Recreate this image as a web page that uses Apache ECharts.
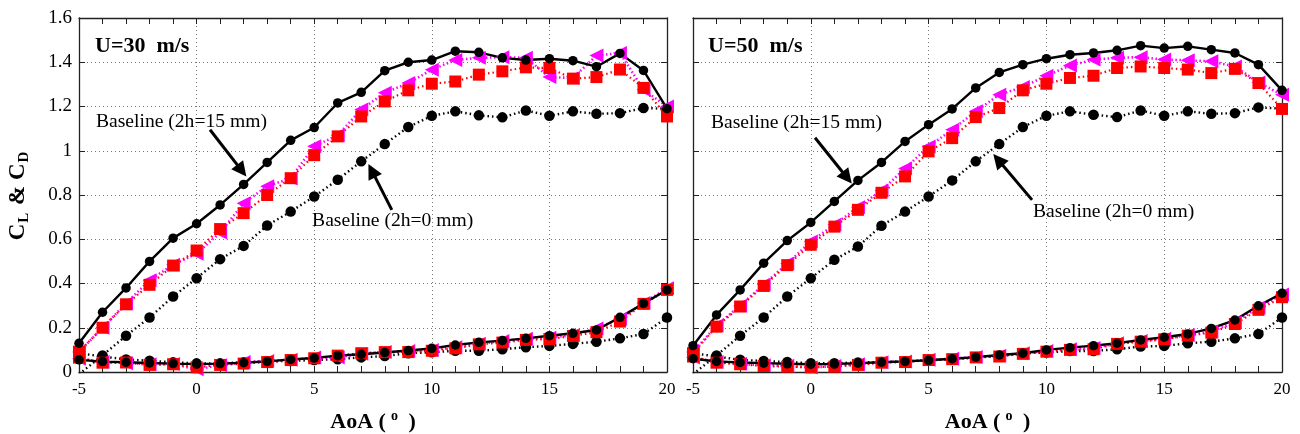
<!DOCTYPE html>
<html>
<head>
<meta charset="utf-8">
<script src="https://cdn.jsdelivr.net/npm/echarts@6/dist/echarts.min.js"></script>
<style>html,body{margin:0;padding:0;background:#fff}#c{width:1300px;height:434px}</style>
</head>
<body>
<div id="c"></div>
<script>
const aoa = [-5,-4,-3,-2,-1,0,1,2,3,4,5,6,7,8,9,10,11,12,13,14,15,16,17,18,19,20];
const xTicks = [-5,0,5,10,15,20];
const yTicks = [0,0.2,0.4,0.6,0.8,1,1.2,1.4,1.6];

// U = 30 m/s
const cl30_h15 = [0.13,0.27,0.38,0.50,0.605,0.67,0.755,0.848,0.947,1.047,1.105,1.216,1.264,1.362,1.40,1.41,1.45,1.445,1.42,1.41,1.416,1.407,1.38,1.44,1.363,1.19];
const cl30_mag = [0.09,0.20,0.31,0.415,0.485,0.535,0.63,0.763,0.84,0.875,1.02,1.07,1.186,1.262,1.306,1.366,1.41,1.42,1.423,1.42,1.333,1.329,1.43,1.442,1.276,1.20];
const cl30_red = [0.092,0.20,0.306,0.394,0.481,0.549,0.646,0.718,0.80,0.876,0.98,1.065,1.155,1.223,1.273,1.303,1.313,1.344,1.359,1.377,1.374,1.326,1.333,1.367,1.284,1.155];
const cl30_h0  = [-0.01,0.075,0.164,0.246,0.341,0.424,0.51,0.57,0.662,0.725,0.793,0.869,0.952,1.03,1.107,1.158,1.178,1.16,1.151,1.182,1.158,1.178,1.167,1.17,1.193,1.19];
const cd30_h15 = [0.055,0.047,0.044,0.041,0.038,0.036,0.038,0.042,0.048,0.057,0.063,0.074,0.08,0.088,0.097,0.107,0.122,0.134,0.142,0.152,0.164,0.175,0.19,0.247,0.31,0.371];
const cd30_mag = [0.06,0.045,0.04,0.035,0.036,0.012,0.03,0.045,0.05,0.055,0.065,0.065,0.083,0.09,0.095,0.10,0.112,0.128,0.14,0.15,0.155,0.167,0.197,0.24,0.312,0.378];
const cd30_red = [0.065,0.042,0.043,0.032,0.035,0.021,0.032,0.038,0.045,0.054,0.062,0.074,0.085,0.09,0.09,0.096,0.107,0.125,0.133,0.145,0.149,0.163,0.18,0.228,0.308,0.371];
const cd30_h0  = [0.085,0.07,0.057,0.051,0.044,0.039,0.039,0.044,0.048,0.05,0.054,0.058,0.066,0.072,0.085,0.089,0.096,0.096,0.103,0.112,0.118,0.127,0.137,0.152,0.172,0.246];

// U = 50 m/s
const cl50_h15 = [0.119,0.258,0.371,0.492,0.594,0.676,0.771,0.866,0.947,1.042,1.118,1.189,1.284,1.354,1.389,1.416,1.434,1.442,1.454,1.475,1.464,1.472,1.457,1.442,1.389,1.273];
const cl50_mag = [0.09,0.21,0.30,0.395,0.49,0.59,0.665,0.745,0.82,0.92,1.019,1.095,1.178,1.253,1.288,1.339,1.385,1.412,1.42,1.423,1.412,1.409,1.404,1.381,1.309,1.253];
const cl50_red = [0.085,0.205,0.296,0.389,0.483,0.575,0.657,0.733,0.81,0.884,0.997,1.057,1.152,1.193,1.273,1.303,1.329,1.339,1.374,1.381,1.374,1.367,1.351,1.37,1.306,1.189];
const cl50_h0  = [-0.01,0.075,0.164,0.246,0.341,0.424,0.507,0.567,0.661,0.725,0.793,0.866,0.952,1.03,1.107,1.158,1.178,1.163,1.152,1.182,1.158,1.178,1.167,1.17,1.196,1.19];
const cd50_h15 = [0.06,0.048,0.043,0.04,0.037,0.035,0.036,0.04,0.044,0.048,0.053,0.06,0.067,0.077,0.085,0.10,0.11,0.119,0.13,0.145,0.157,0.172,0.197,0.235,0.299,0.356];
const cd50_mag = [0.065,0.045,0.037,0.03,0.028,0.02,0.027,0.035,0.044,0.048,0.055,0.06,0.068,0.073,0.085,0.095,0.103,0.108,0.13,0.14,0.15,0.167,0.183,0.225,0.29,0.35];
const cd50_red = [0.07,0.042,0.035,0.027,0.024,0.021,0.024,0.032,0.042,0.045,0.054,0.058,0.066,0.07,0.082,0.092,0.10,0.103,0.127,0.137,0.148,0.164,0.178,0.217,0.281,0.338];
const cd50_h0  = [0.085,0.07,0.055,0.05,0.045,0.04,0.04,0.043,0.045,0.048,0.052,0.058,0.065,0.072,0.085,0.088,0.095,0.095,0.103,0.115,0.118,0.13,0.137,0.152,0.172,0.246];

const panelTitles = ['U=30  m/s', 'U=50  m/s'];
const labelH15 = 'Baseline (2h=15 mm)';
const labelH0 = 'Baseline (2h=0 mm)';

const FONT = 'Liberation Serif';
const chart = echarts.init(document.getElementById('c'));

function zip(y){ return aoa.map((x,i)=>[x,y[i]]); }

function xAxisDefs(gi){
  const base = {
    type:'value', gridIndex:gi, min:-5, max:20, interval:5,
    axisLine:{show:true, onZero:false, lineStyle:{color:'#222', width:1.3}},
    axisTick:{show:true, inside:true, length:6, lineStyle:{color:'#222'}},
    minorTick:{show:true, splitNumber:5, length:6, lineStyle:{color:'#222'}}
  };
  return [
    Object.assign({}, base, {
      position:'bottom',
      axisLabel:{show:true, margin:9, color:'#000', fontFamily:FONT, fontSize:17},
      splitLine:{show:true, lineStyle:{color:'#777', type:[1,3], width:1}},
      name:'{b|AoA (}{sup|o}{b| )}', nameLocation:'middle', nameGap:37,
      nameTextStyle:{rich:{
        b:{fontFamily:FONT, fontWeight:'bold', fontSize:22, color:'#000'},
        sup:{fontFamily:FONT, fontWeight:'bold', fontSize:14, color:'#000', padding:[0,5,13,5]}
      }}
    }),
    Object.assign({}, base, {
      position:'top', axisLabel:{show:false}, splitLine:{show:false}
    })
  ];
}
function yAxisDefs(gi, showLabels){
  const base = {
    type:'value', gridIndex:gi, min:0, max:1.6, interval:0.2,
    axisLine:{show:true, onZero:false, lineStyle:{color:'#222', width:1.3}},
    axisTick:{show:true, inside:true, length:6, lineStyle:{color:'#222'}}
  };
  const left = Object.assign({}, base, {
    position:'left',
    axisLabel:{show:showLabels, margin:7, color:'#000', fontFamily:FONT, fontSize:19},
    splitLine:{show:true, lineStyle:{color:'#777', type:[1,3], width:1}}
  });
  if (showLabels){
    left.name = '{c|C}{s|L}{c| & C}{s|D}';
    left.nameLocation = 'middle';
    left.nameGap = 47;
    left.nameRotate = 90;
    left.nameTextStyle = {rich:{
      c:{fontFamily:FONT, fontWeight:'bold', fontSize:23, color:'#000'},
      s:{fontFamily:FONT, fontWeight:'bold', fontSize:15, color:'#000', padding:[13,2,0,1]}
    }};
  }
  return [left, Object.assign({}, base, {position:'right', axisLabel:{show:false}, splitLine:{show:false}})];
}

function panelSeries(gi, d){
  const xi = gi*2, yi = gi*2;
  const mk = (data, o) => Object.assign({type:'line', xAxisIndex:xi, yAxisIndex:yi, data:zip(data), clip:true, z:2, silent:true}, o);
  const dotBlack = {symbol:'circle', symbolSize:10.5, itemStyle:{color:'#000'}, lineStyle:{color:'#000', width:2.4, type:[1.5,3]}};
  const mag = {symbol:'triangle', symbolRotate:90, symbolSize:14, itemStyle:{color:'#ff00ff'}, lineStyle:{color:'#ff00ff', width:2.6, type:[1.5,2.5]}};
  const red = {symbol:'rect', symbolSize:12, itemStyle:{color:'#ff0000'}, lineStyle:{color:'#ff0000', width:2.2, type:[1.5,3]}};
  const solid = {symbol:'circle', symbolSize:9.5, itemStyle:{color:'#000'}, lineStyle:{color:'#000', width:2.4, type:'solid'}};
  return [
    mk(d.clh0, dotBlack), mk(d.cdh0, dotBlack),
    mk(d.clm, mag), mk(d.cdm, mag),
    mk(d.clr, red), mk(d.cdr, red),
    mk(d.clh15, Object.assign({}, solid, {
      markLine:{silent:true, symbol:['none','triangle'], symbolSize:15, animation:false,
        label:{show:false}, lineStyle:{color:'#000', width:3, type:'solid'},
        data:d.arrows.map(a=>[{coord:a[0]},{coord:a[1]}])}
    })),
    mk(d.cdh15, solid)
  ];
}

const panels = [
  {clh15:cl30_h15, clm:cl30_mag, clr:cl30_red, clh0:cl30_h0, cdh15:cd30_h15, cdm:cd30_mag, cdr:cd30_red, cdh0:cd30_h0,
   arrows:[[[0.57,1.095],[1.92,0.91]], [[8.3,0.733],[7.45,0.91]]]},
  {clh15:cl50_h15, clm:cl50_mag, clr:cl50_red, clh0:cl50_h0, cdh15:cd50_h15, cdm:cd50_mag, cdr:cd50_red, cdh0:cd50_h0,
   arrows:[[[0.18,1.059],[1.54,0.878]], [[9.39,0.778],[7.95,0.959]]]}
];

const option = {
  animation:false,
  backgroundColor:'#fff',
  grid:[
    {left:79, right:633, top:18, bottom:62, show:false, outerBoundsMode:'none', containLabel:false},
    {left:693, right:18, top:18, bottom:62, show:false, outerBoundsMode:'none', containLabel:false}
  ],
  xAxis:[...xAxisDefs(0), ...xAxisDefs(1)],
  yAxis:[...yAxisDefs(0, true), ...yAxisDefs(1, false)],
  series:[...panelSeries(0, panels[0]), ...panelSeries(1, panels[1])]
};
option.series.forEach((s,i)=>{ const gi = i < 8 ? 0 : 1; s.xAxisIndex = gi*2; s.yAxisIndex = gi*2; });
chart.setOption(option);

// annotations placed in data coordinates
const notes = [
  {gi:0, at:[-4.32,1.47], text:panelTitles[0], bold:true},
  {gi:0, at:[-4.28,1.13], text:labelH15},
  {gi:0, at:[4.91,0.683], text:labelH0},
  {gi:1, at:[-4.36,1.47], text:panelTitles[1], bold:true},
  {gi:1, at:[-4.24,1.127], text:labelH15},
  {gi:1, at:[9.43,0.724], text:labelH0}
];
chart.setOption({graphic: notes.map(n=>{
  const p = chart.convertToPixel({gridIndex:n.gi}, n.at);
  return {type:'text', x:p[0], y:p[1], z:100, style:{
    text:n.text, fill:'#000', fontFamily:FONT,
    fontSize:n.bold?22:19.6, fontWeight:n.bold?'bold':'normal',
    textAlign:'left', textVerticalAlign:'middle'}};
})});
</script>
</body>
</html>
